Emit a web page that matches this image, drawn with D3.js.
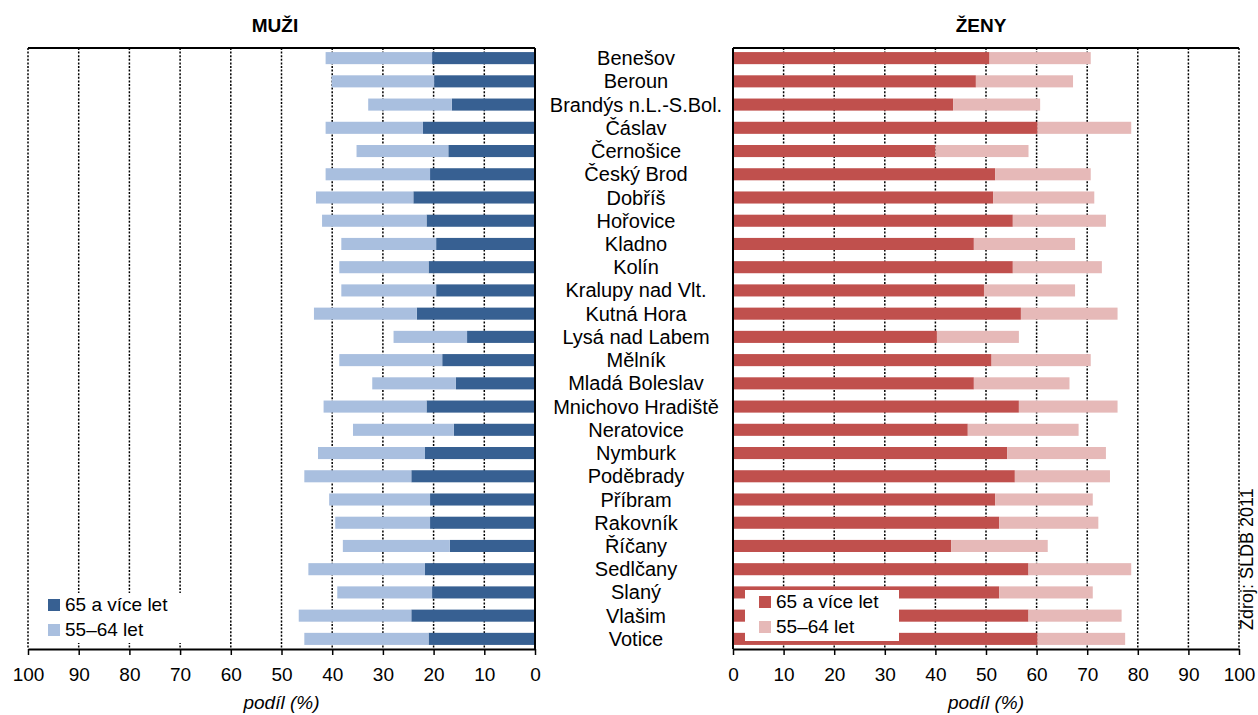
<!DOCTYPE html>
<html>
<head>
<meta charset="utf-8">
<script src="https://cdn.jsdelivr.net/npm/d3@7"></script>
<style>
  html, body { margin: 0; padding: 0; background: #fff; }
  svg { display: block; font-family: "Liberation Sans", Arial, sans-serif; }
</style>
</head>
<body>
<svg id="chart" width="1258" height="715"></svg>
<script>
const categories = ["Benešov","Beroun","Brandýs n.L.-S.Bol.","Čáslav","Černošice","Český Brod","Dobříš","Hořovice","Kladno","Kolín","Kralupy nad Vlt.","Kutná Hora","Lysá nad Labem","Mělník","Mladá Boleslav","Mnichovo Hradiště","Neratovice","Nymburk","Poděbrady","Příbram","Rakovník","Říčany","Sedlčany","Slaný","Vlašim","Votice"];

// MUŽI (men) shares, %
const men65 = [20.3,19.9,16.4,22.1,17.1,20.7,24.0,21.4,19.5,21.0,19.5,23.3,13.4,18.3,15.6,21.4,16.0,21.7,24.4,20.7,20.7,16.8,21.7,20.3,24.4,21.0];
const men55 = [21.0,20.2,16.5,19.2,18.1,20.6,19.2,20.6,18.7,17.6,18.7,20.3,14.5,20.3,16.5,20.3,19.9,21.1,21.1,19.9,18.7,21.1,23.0,18.7,22.2,24.5];

// ŽENY (women) shares, %
const women65 = [50.7,48.0,43.5,60.2,40.0,51.8,51.4,55.3,47.6,55.3,49.6,56.9,40.3,51.1,47.6,56.5,46.4,54.2,55.7,51.8,52.6,43.1,58.4,52.6,58.4,60.2];
const women55 = [20.0,19.2,17.2,18.5,18.4,18.9,20.0,18.4,20.0,17.6,18.0,19.1,16.2,19.6,18.9,19.5,21.9,19.5,18.8,19.3,19.6,19.1,20.3,18.5,18.4,17.3];

const tickValues = [0,10,20,30,40,50,60,70,80,90,100];
const seriesNames = ["65 a více let", "55–64 let"];
const menColors = ["#376092", "#a9bfdf"];
const womenColors = ["#c0504d", "#e6b9b8"];

const svg = d3.select("#chart");
const plotTop = 48, plotBottom = 649;

const y = d3.scaleBand().domain(categories).range([46.5, 650.5]).paddingInner(0.48).paddingOuter(0.24);
const xL = d3.scaleLinear().domain([100, 0]).range([28, 535]);
const xR = d3.scaleLinear().domain([0, 100]).range([733, 1239]);

function panel(x, vOld, vMid, colors, title, titleX, legendBox) {
  const g = svg.append("g");
  // gridlines (dotted)
  g.selectAll("line.grid").data(tickValues.filter(d => d !== 0))
    .enter().append("line")
    .attr("x1", d => x(d)).attr("x2", d => x(d))
    .attr("y1", plotTop).attr("y2", plotBottom)
    .attr("stroke", "#000").attr("stroke-width", 1.5)
    .attr("stroke-dasharray", "2,1.6");

  // bars
  const rows = categories.map((c, i) => ({c, a: vOld[i], b: vMid[i]}));
  g.selectAll("rect.old").data(rows).enter().append("rect")
    .attr("x", d => Math.min(x(0), x(d.a)))
    .attr("width", d => Math.abs(x(d.a) - x(0)))
    .attr("y", d => y(d.c)).attr("height", y.bandwidth())
    .attr("fill", colors[0]);
  g.selectAll("rect.mid").data(rows).enter().append("rect")
    .attr("x", d => Math.min(x(d.a), x(d.a + d.b)))
    .attr("width", d => Math.abs(x(d.a + d.b) - x(d.a)))
    .attr("y", d => y(d.c)).attr("height", y.bandwidth())
    .attr("fill", colors[1]);

  // frame: top and category-side solid
  g.append("line").attr("x1", x(0)).attr("x2", x(100)).attr("y1", plotTop).attr("y2", plotTop)
    .attr("stroke", "#000").attr("stroke-width", 2);
  g.append("line").attr("x1", x(0)).attr("x2", x(0)).attr("y1", plotTop).attr("y2", plotBottom)
    .attr("stroke", "#000").attr("stroke-width", 2);

  // axis
  const ax = g.append("g").attr("transform", `translate(0,${plotBottom})`)
    .call(d3.axisBottom(x).tickValues(tickValues).tickSize(6).tickSizeOuter(0).tickPadding(13));
  ax.select(".domain").attr("stroke", "#000").attr("stroke-width", 2);
  ax.selectAll(".tick line").attr("stroke", "#000").attr("stroke-width", 1.5);
  ax.selectAll(".tick text").attr("font-size", 19).attr("fill", "#000")
    .attr("font-family", "'Liberation Sans', Arial, sans-serif");

  // axis title
  g.append("text").attr("x", (x(0) + x(100)) / 2).attr("y", 709)
    .attr("text-anchor", "middle").attr("font-size", 19).attr("font-style", "italic")
    .text("podíl (%)");

  // panel title
  g.append("text").attr("x", titleX).attr("y", 32)
    .attr("text-anchor", "middle").attr("font-size", 19).attr("font-weight", "bold")
    .text(title);

  // legend
  const lg = g.append("g");
  lg.append("rect").attr("x", legendBox.x).attr("y", legendBox.y)
    .attr("width", legendBox.w).attr("height", legendBox.h).attr("fill", "#fff");
  seriesNames.forEach((s, i) => {
    lg.append("rect").attr("x", legendBox.x + legendBox.sx).attr("y", legendBox.y + 6 + i * 25)
      .attr("width", 12).attr("height", 12).attr("fill", colors[i]);
    lg.append("text").attr("x", legendBox.x + legendBox.sx + 17).attr("y", legendBox.y + 18 + i * 25)
      .attr("font-size", 19).text(s);
  });
}

panel(xL, men65, men55, menColors, "MUŽI", 275, {x: 32, y: 593, w: 170, h: 50, sx: 16});
panel(xR, women65, women55, womenColors, "ŽENY", 981, {x: 745, y: 590, w: 154, h: 51, sx: 14});

// category labels
svg.append("g").selectAll("text").data(categories).enter().append("text")
  .attr("x", 636).attr("y", d => y(d) + y.bandwidth() / 2 + 7)
  .attr("text-anchor", "middle").attr("font-size", 20).attr("fill", "#000")
  .text(d => d);

// source
svg.append("text").attr("transform", "translate(1253,630) rotate(-90)")
  .attr("font-size", 18).attr("text-anchor", "start").text("Zdroj: SLDB 2011");
</script>
</body>
</html>
